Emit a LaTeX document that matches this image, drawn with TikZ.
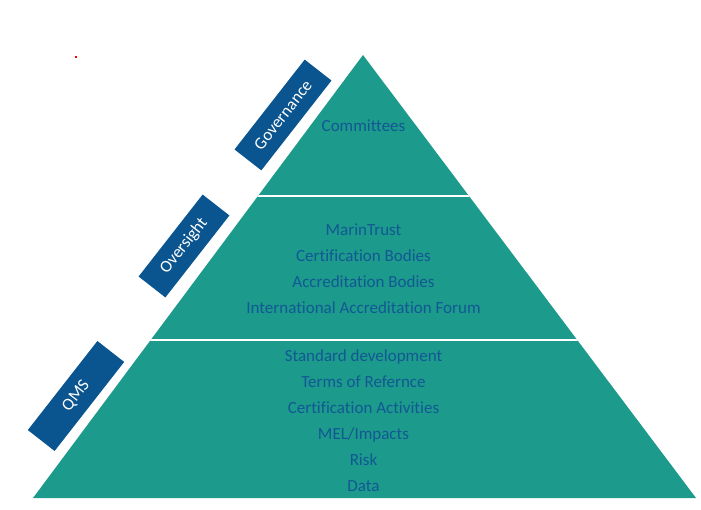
\documentclass[tikz,border=0pt]{standalone}
\usepackage{fontspec}
\setmainfont[Ligatures=NoCommon]{Carlito}
\definecolor{pyr}{RGB}{28,154,139}
\definecolor{tier}{RGB}{18,88,148}
\definecolor{lbl}{RGB}{10,84,143}
\begin{document}
\begin{tikzpicture}[x=1pt,y=-1pt,
  tiertext/.style={text=tier, font=\fontsize{17}{20}\selectfont, inner sep=0pt, anchor=base},
  labelbox/.style={fill=lbl, text=white, font=\fontsize{17}{20}\selectfont, inner sep=0pt, minimum height=34pt}]
\useasboundingbox (0,0) rectangle (701,510);
\coordinate (apex) at (363,55);
\coordinate (br) at (696,498);
\coordinate (bl) at (33,498);
\fill[pyr] (apex) -- (br) -- (bl) -- cycle;
\begin{scope}
\clip (apex) -- (br) -- (bl) -- cycle;
\coordinate (l1a) at (0,196.5);
\coordinate (l1b) at (701,196.5);
\coordinate (l2a) at (0,339.8);
\coordinate (l2b) at (701,339.8);
\draw[white, line width=2pt] (l1a) -- (l1b);
\draw[white, line width=2pt] (l2a) -- (l2b);
\end{scope}
\node[tiertext] (t1) at (363.5,131.5) {Committees};
\node[tiertext] (m1) at (363.5,235.5) {MarinTrust};
\node[tiertext] (m2) at (363.5,261.5) {Certification Bodies};
\node[tiertext] (m3) at (363.5,287.5) {Accreditation Bodies};
\node[tiertext] (m4) at (363.5,313.5) {International Accreditation Forum};
\node[tiertext] (b1) at (363.5,361.5) {Standard development};
\node[tiertext] (b2) at (363.5,387.5) {Terms of Refernce};
\node[tiertext] (b3) at (363.5,413.5) {Certification Activities};
\node[tiertext] (b4) at (363.5,439.5) {MEL/Impacts};
\node[tiertext] (b5) at (363.5,465.5) {Risk};
\node[tiertext] (b6) at (363.5,491.5) {Data};
\node[labelbox, rotate=52, minimum width=114pt] (gov) at (283,115) {Governance};
\node[labelbox, rotate=52, minimum width=104pt] (ovs) at (184,246) {Oversight};
\node[labelbox, rotate=52, minimum width=113pt] (qms) at (76,396) {QMS};
\fill[red] (75,56) rectangle (77,58);
\end{tikzpicture}
\end{document}
